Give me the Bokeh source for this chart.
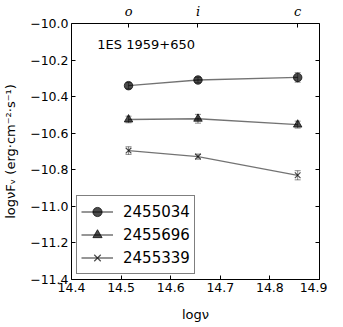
from bokeh.plotting import figure
from bokeh.models import (ColumnDataSource, Whisker, TeeHead, LinearAxis, FixedTicker,
                          CustomJSTickFormatter, Legend, LegendItem, Label)
from bokeh.embed import file_html
from bokeh.resources import INLINE

# ---- data ----
log_nu = [14.515, 14.655, 14.856]
band_labels = ["o", "i", "c"]
series_names = ["2455034", "2455696", "2455339"]
flux_2455034 = [-10.340, -10.309, -10.295]
err_2455034 = [0.017, 0.015, 0.026]
flux_2455696 = [-10.525, -10.521, -10.553]
err_2455696 = [0.018, 0.024, 0.019]
flux_2455339 = [-10.695, -10.728, -10.830]
err_2455339 = [0.021, 0.014, 0.025]
x_ticks = [14.4, 14.5, 14.6, 14.7, 14.8, 14.9]
y_ticks = [-11.4, -11.2, -11.0, -10.8, -10.6, -10.4, -10.2, -10.0]
source_label = "1ES 1959+650"

FONT = "DejaVu Sans"

p = figure(frame_width=248, frame_height=256,
           x_range=(14.4, 14.9), y_range=(-11.4, -10.0),
           output_backend="svg", toolbar_location=None,
           min_border_left=71, min_border_right=8,
           min_border_top=23, min_border_bottom=32,
           background_fill_color="white", border_fill_color="white")
p.grid.visible = False
p.outline_line_color = "black"
p.outline_line_width = 1
p.outline_line_alpha = 1

num_fmt = CustomJSTickFormatter(
    code="return (tick < 0 ? '\u2212' : '') + Math.abs(tick).toFixed(1);")

xa = p.xaxis[0]
xa.ticker = FixedTicker(ticks=x_ticks)
xa.formatter = num_fmt
xa.axis_label = "log\u03bd"

ya = p.yaxis[0]
ya.ticker = FixedTicker(ticks=y_ticks)
ya.formatter = num_fmt
ya.axis_label = "log\u03bdF\u1d65 (erg\u00b7cm\u207b\u00b2\u00b7s\u207b\u00b9)"

top = LinearAxis(ticker=FixedTicker(ticks=log_nu),
                 formatter=CustomJSTickFormatter(
                     args=dict(labels=band_labels, xs=log_nu),
                     code="""
for (let i = 0; i < xs.length; i++) {
  if (Math.abs(xs[i] - tick) < 1e-6) return labels[i];
}
return '';"""))
p.add_layout(top, "above")
right = LinearAxis(ticker=FixedTicker(ticks=y_ticks),
                   formatter=CustomJSTickFormatter(code="return '';"))
p.add_layout(right, "right")

for ax in [xa, ya, top, right]:
    ax.axis_line_color = None
    ax.major_tick_in = 4
    ax.major_tick_out = 0
    ax.minor_tick_line_color = None
    ax.major_tick_line_color = "black"
    ax.major_label_text_font = FONT
    ax.major_label_text_font_size = "12.5px"
    ax.major_label_text_color = "black"
    ax.axis_label_text_font = FONT
    ax.axis_label_text_font_size = "13px"
    ax.axis_label_text_font_style = "normal"
    ax.axis_label_text_color = "black"

xa.major_label_standoff = 3
xa.axis_label_standoff = 12
ya.major_label_standoff = 3
ya.axis_label_standoff = 9
top.major_label_text_font = "DejaVu Serif"
top.major_label_text_font_style = "italic"
top.major_label_text_font_size = "13px"
top.major_label_standoff = 5
right.major_label_standoff = 0
right.major_label_text_font_size = "1px"

series = [
    (series_names[0], flux_2455034, err_2455034, "circle"),
    (series_names[1], flux_2455696, err_2455696, "triangle"),
    (series_names[2], flux_2455339, err_2455339, "x"),
]

items = []
for name, flux, err, marker in series:
    src = ColumnDataSource(dict(
        x=log_nu, y=flux,
        lo=[f - e for f, e in zip(flux, err)],
        hi=[f + e for f, e in zip(flux, err)]))
    w = Whisker(base="x", lower="lo", upper="hi", source=src, dimension="height",
                line_color="black", line_alpha=0.45, line_width=1,
                upper_head=TeeHead(size=6, line_color="black", line_alpha=0.45),
                lower_head=TeeHead(size=6, line_color="black", line_alpha=0.45))
    p.add_layout(w)
    ln = p.line("x", "y", source=src, line_color="black", line_alpha=0.55, line_width=1.3)
    if marker == "x":
        sc = p.scatter("x", "y", source=src, marker="x", size=8,
                       line_color="black", line_alpha=0.7, line_width=1.2)
    else:
        sc = p.scatter("x", "y", source=src, marker=marker, size=8.5,
                       fill_color="black", fill_alpha=0.7,
                       line_color="black", line_alpha=0.7)
    items.append(LegendItem(label=name, renderers=[ln, sc]))

legend = Legend(items=items, location="bottom_left",
                label_text_font=FONT, label_text_font_size="15px",
                label_text_color="black",
                glyph_width=32, glyph_height=23, label_height=23,
                label_standoff=10, padding=4, spacing=0, margin=5,
                border_line_color="black", border_line_width=1,
                background_fill_color="white", background_fill_alpha=1)
p.add_layout(legend)

p.add_layout(Label(x=14.452, y=-10.114, text=source_label,
                   text_font=FONT, text_font_size="13px",
                   text_baseline="middle", text_color="black"))

open("out.html", "w").write(file_html(p, INLINE))
